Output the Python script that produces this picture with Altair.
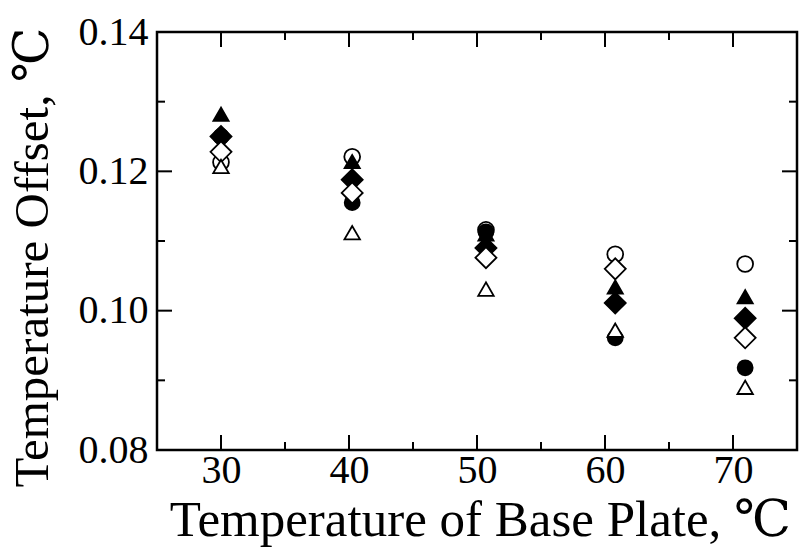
import altair as alt
import pandas as pd

# ---- data ----
x_temps = [30.0, 40.25, 50.7, 60.8, 70.95]
open_circle = [0.1213, 0.1221, 0.1116, 0.1081, 0.1067]
filled_circle = [0.1250, 0.1155, 0.1113, 0.0961, 0.0918]
filled_triangle = [0.1282, 0.1214, 0.1110, 0.1034, 0.1020]
filled_diamond = [0.1250, 0.1188, 0.1090, 0.1011, 0.0989]
open_diamond = [0.1228, 0.1169, 0.1076, 0.1060, 0.0961]
open_triangle = [0.1207, 0.1112, 0.1031, 0.0972, 0.0890]

# drawing order: first drawn is at the bottom
series_names = ["open circle", "filled circle", "filled triangle",
                "filled diamond", "open diamond", "open triangle"]
series_values = [open_circle, filled_circle, filled_triangle,
                 filled_diamond, open_diamond, open_triangle]

# marker styles
styles = {
    "open circle": dict(shape="circle", fill="white", size=250),
    "filled circle": dict(shape="circle", fill="black", size=225),
    "filled triangle": dict(shape="triangle-up", fill="black", size=230),
    "filled diamond": dict(shape="diamond", fill="black", size=441),
    "open diamond": dict(shape="diamond", fill="white", size=441),
    "open triangle": dict(shape="triangle-up", fill="white", size=240),
}

x_major = [30, 40, 50, 60, 70]
x_minor = [35, 45, 55, 65]
y_major = [0.08, 0.10, 0.12, 0.14]
y_minor = [0.09, 0.11, 0.13]

W, H = 640, 418
FONT = "Liberation Serif, DejaVu Serif, serif"

rows = []
for name, vals in zip(series_names, series_values):
    for xv, yv in zip(x_temps, vals):
        rows.append({"series": name, "x": xv, "y": yv})
df = pd.DataFrame(rows)

xscale = alt.Scale(domain=[25, 75], nice=False, zero=False)
yscale = alt.Scale(domain=[0.08, 0.14], nice=False, zero=False)

xaxis = alt.Axis(title="Temperature of Base Plate, ℃", values=x_major, format="d",
                 domain=False, ticks=False, grid=False, labelPadding=0,
                 titleFontSize=51, titleX=W / 2 + 3, titleY=85,
                 titleBaseline="alphabetic", labelFlush=False)
yaxis = alt.Axis(title="Temperature Offset, ℃", values=y_major, format=".2f",
                 domain=False, ticks=False, grid=False, labelPadding=9,
                 titleFontSize=49, titleX=-110, titleY=225, titleAngle=270,
                 titleBaseline="alphabetic", labelFlush=False)

layers = []
for name in series_names:
    st = styles[name]
    layers.append(
        alt.Chart(df).transform_filter(alt.datum.series == name).mark_point(
            shape=st["shape"], filled=True, fill=st["fill"], size=st["size"],
            stroke="black", strokeWidth=1.8, opacity=1,
        ).encode(
            x=alt.X("x:Q", scale=xscale, axis=xaxis),
            y=alt.Y("y:Q", scale=yscale, axis=yaxis),
        )
    )

xmaj = pd.DataFrame({"x": x_major})
xmin = pd.DataFrame({"x": x_minor})
ymaj = pd.DataFrame({"y": [v for v in y_major if 0.08 < v < 0.14]})
ymin = pd.DataFrame({"y": y_minor})


def xticks(d, length):
    bottom = alt.Chart(d).mark_rule(color="black", strokeWidth=2).encode(
        x=alt.X("x:Q", scale=xscale, axis=xaxis), y=alt.value(H), y2=alt.value(H - length))
    top = alt.Chart(d).mark_rule(color="black", strokeWidth=2).encode(
        x=alt.X("x:Q", scale=xscale, axis=xaxis), y=alt.value(0), y2=alt.value(length))
    return [bottom, top]


def yticks(d, length):
    left = alt.Chart(d).mark_rule(color="black", strokeWidth=2).encode(
        y=alt.Y("y:Q", scale=yscale, axis=yaxis), x=alt.value(0), x2=alt.value(length))
    right = alt.Chart(d).mark_rule(color="black", strokeWidth=2).encode(
        y=alt.Y("y:Q", scale=yscale, axis=yaxis), x=alt.value(W), x2=alt.value(W - length))
    return [left, right]


layers = layers + xticks(xmaj, 15) + xticks(xmin, 8) + yticks(ymaj, 15) + yticks(ymin, 8)

chart = alt.layer(*layers).properties(
    width=W, height=H,
    autosize=alt.AutoSizeParams(type="none"),
    padding={"left": 157, "top": 32, "right": 5, "bottom": 99},
    background="white",
).configure_view(
    stroke="black", strokeWidth=2.5
).configure_axis(
    labelFont=FONT, titleFont=FONT, labelFontSize=40,
    labelColor="black", titleColor="black", titleFontWeight="normal",
)

chart.save("out.html", embed_options={"renderer": "svg", "actions": False})
